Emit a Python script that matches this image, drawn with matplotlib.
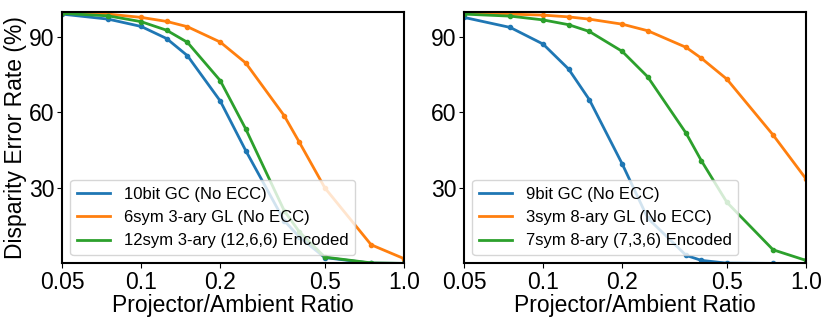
import numpy as np
import matplotlib.pyplot as plt
from matplotlib.lines import Line2D
from matplotlib.ticker import FixedLocator, FixedFormatter, NullLocator

plt.rcParams['font.family'] = ['Liberation Sans', 'DejaVu Sans']

# projector/ambient ratios
ratio = [0.05, 0.075, 0.1, 0.125, 0.15, 0.2, 0.25, 0.35, 0.4, 0.5, 0.75, 1.0]

# left panel
gc10 = [99.0, 97.0, 94.1, 89.3, 82.5, 64.5, 44.8, 17.0, 10.5, 2.3, 0.1, 0.0]
gl6 = [99.3, 99.0, 97.7, 96.1, 94.0, 87.9, 79.6, 58.7, 48.1, 30.0, 7.4, 1.9]
enc12 = [99.3, 98.3, 96.0, 92.6, 87.8, 72.6, 53.4, 21.0, 12.5, 2.5, 0.2, 0.0]

# right panel
gc9 = [97.7, 93.7, 87.1, 77.2, 65.0, 39.5, 18.0, 3.2, 1.2, 0.1, 0.0, 0.0]
gl3 = [99.3, 99.0, 98.6, 97.9, 97.0, 95.0, 92.4, 85.8, 81.5, 73.2, 51.0, 33.6]
enc7 = [99.0, 98.2, 96.7, 94.8, 92.1, 84.2, 74.1, 51.7, 40.8, 24.3, 5.4, 1.2]

xticks = [0.05, 0.1, 0.2, 0.5, 1.0]
xticklabels = ['0.05', '0.1', '0.2', '0.5', '1.0']
colors = ['#1f77b4', '#ff7f0e', '#2ca02c']

fig = plt.figure(figsize=(8.3, 3.22), dpi=100)
ax1 = fig.add_axes([0.0747, 0.182, 0.412, 0.782])
ax2 = fig.add_axes([0.559, 0.182, 0.412, 0.782])

panels = [
    (ax1, [gc10, gl6, enc12], ['10bit GC (No ECC)', '6sym 3-ary GL (No ECC)', '12sym 3-ary (12,6,6) Encoded']),
    (ax2, [gc9, gl3, enc7], ['9bit GC (No ECC)', '3sym 8-ary GL (No ECC)', '7sym 8-ary (7,3,6) Encoded']),
]

for ax, series, names in panels:
    handles = []
    for y, name, c in zip(series, names, colors):
        ax.plot(ratio, y, '-o', color=c, markersize=3, linewidth=2)
        handles.append(Line2D([], [], color=c, linewidth=2, label=name))
    ax.set_xscale('log')
    ax.set_xlim(0.05, 1.0)
    ax.set_ylim(0, 100)
    ax.xaxis.set_major_locator(FixedLocator(xticks))
    ax.xaxis.set_major_formatter(FixedFormatter(xticklabels))
    ax.xaxis.set_minor_locator(NullLocator())
    ax.set_yticks([30, 60, 90])
    ax.tick_params(labelsize=16.5, pad=2)
    ax.set_xlabel('Projector/Ambient Ratio', fontsize=16.5, labelpad=0)
    ax.legend(handles=handles, loc='lower left', fontsize=12)
    for s in ax.spines.values():
        s.set_linewidth(1.5)

ax1.set_ylabel('Disparity Error Rate (%)', fontsize=16.5, labelpad=1)

fig.savefig('out.png', dpi=100)
